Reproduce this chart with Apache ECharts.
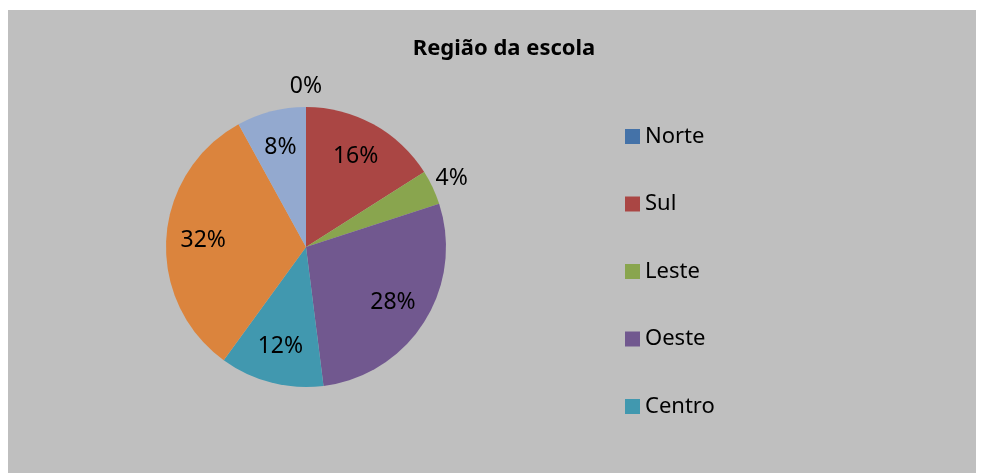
<!DOCTYPE html>
<html>
<head>
<meta charset="utf-8">
<script src="https://cdn.jsdelivr.net/npm/echarts@6/dist/echarts.min.js"></script>
<style>
  html, body { margin: 0; padding: 0; background: #fff; }
  #frame { position: absolute; left: 8px; top: 10px; width: 968px; height: 463px; background: #bfbfbf; }
  #chart { width: 100%; height: 100%; }
</style>
</head>
<body>
<div id="frame"><div id="chart"></div></div>
<script>
const regioes = ['Norte', 'Sul', 'Leste', 'Oeste', 'Centro', 'Outra', 'Não informado'];
const percentuais = [0, 16, 4, 28, 12, 32, 8];
const cores = ['#4472a8', '#aa4644', '#89a54e', '#71588f', '#4198af', '#db843d', '#93a9cf'];
const legendaVisivel = ['Norte', 'Sul', 'Leste', 'Oeste', 'Centro'];

const fonte = '"Noto Sans", sans-serif';
const chart = echarts.init(document.getElementById('chart'));

const dados = regioes.map((nome, i) => ({
  name: nome,
  value: percentuais[i],
  itemStyle: { color: cores[i] }
}));

// series invisiveis so para posicionar os rotulos como no Excel
const rotulo = (mostrar) => ({
  type: 'pie',
  center: [298, 237],
  startAngle: 90,
  silent: true,
  animation: false,
  itemStyle: { color: 'transparent', borderWidth: 0 },
  label: {
    show: true,
    position: 'inside',
    color: '#000',
    fontFamily: fonte,
    fontSize: 23,
    formatter: p => mostrar(p.value) ? p.value + '%' : ''
  },
  labelLine: { show: false },
  emphasis: { disabled: true },
  data: regioes.map((nome, i) => ({ name: nome, value: percentuais[i] }))
});

const interno = Object.assign(rotulo(v => v >= 8), { radius: [60, 140] });
const externo = Object.assign(rotulo(v => v < 8), { radius: [140, 176] });

chart.setOption({
  animation: false,
  title: {
    text: 'Região da escola',
    left: 491,
    top: 23,
    textAlign: 'center',
    textStyle: { fontFamily: fonte, fontWeight: 'bold', fontSize: 22, color: '#000' }
  },
  legend: {
    data: legendaVisivel,
    orient: 'vertical',
    left: 612,
    top: 109,
    icon: 'rect',
    itemWidth: 15,
    itemHeight: 15,
    itemGap: 42.5,
    selectedMode: false,
    textStyle: { fontFamily: fonte, fontSize: 22, color: '#000', lineHeight: 25 }
  },
  series: [
    {
      type: 'pie',
      center: [298, 237],
      radius: [0, 140],
      startAngle: 90,
      label: { show: false },
      labelLine: { show: false },
      emphasis: { disabled: true },
      data: dados
    },
    interno,
    externo
  ]
});
</script>
</body>
</html>
